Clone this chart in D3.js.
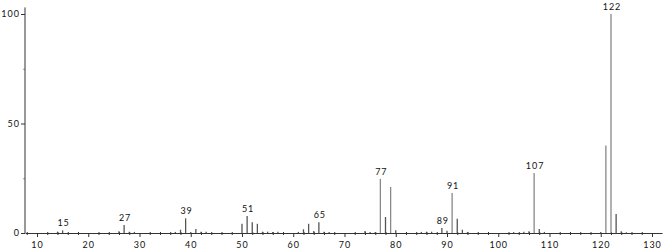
<!DOCTYPE html>
<html>
<head>
<meta charset="utf-8">
<script src="https://cdn.jsdelivr.net/npm/d3@7"></script>
<style>
  body { margin: 0; background: #fff; }
  text { font-family: Lato, "DejaVu Sans", sans-serif; font-size: 9px; fill: #111; letter-spacing: 1px; }
</style>
</head>
<body>
<div id="chart"></div>
<script>
// m/z values and relative intensity
var mz = [14, 15, 26, 27, 28, 29, 37, 38, 39, 40, 41, 42, 43,
  50, 51, 52, 53, 54, 55, 56, 57, 61, 62, 63, 64, 65, 66, 67,
  74, 75, 76, 77, 78, 79, 80, 85, 86, 87, 89, 90, 91, 92, 93, 94,
  103, 105, 106, 107, 108, 109, 120, 121, 122, 123, 124, 125];
var intensity = [0.6, 1.2, 0.8, 3.7, 0.6, 0.5, 0.5, 1.5, 6.7, 0.5, 1.8, 0.6, 0.6,
  4.2, 7.8, 4.9, 4.2, 0.6, 0.6, 0.4, 0.6, 0.5, 1.7, 4.2, 0.9, 4.9, 0.6, 0.4,
  0.9, 0.5, 0.5, 24.7, 7.3, 21, 1.2, 0.5, 0.6, 0.6, 2.3, 1, 18.3, 6.5, 1.5, 0.5,
  0.4, 0.6, 0.8, 27.4, 1.8, 0.5, 0.5, 40, 100, 8.7, 0.8, 0.3];
var peakLabels = [15, 27, 39, 51, 65, 77, 89, 91, 107, 122];
var xTicks = [10, 20, 30, 40, 50, 60, 70, 80, 90, 100, 110, 120, 130];
var yTicks = [0, 50, 100];

var svgWidth = 667;
var svgHeight = 249;
var margin = { top: 14, right: 5, bottom: 16, left: 25 };
var chartWidth = svgWidth - margin.left - margin.right;
var chartHeight = 233 - margin.top;

var svg = d3.select("#chart")
  .append("svg")
  .attr("width", svgWidth)
  .attr("height", svgHeight);

var xScale = d3.scaleLinear()
  .domain([7.66, 10 + (662 - 37) / 5.125])
  .range([0, 637]);

var yScale = d3.scaleLinear()
  .domain([0, 100])
  .range([chartHeight, 0]);

var chartGroup = svg.append("g")
  .attr("transform", `translate(${margin.left}, ${margin.top})`);

// x axis with minor ticks every 2
var minor = d3.range(8, 132, 2).filter(d => d % 10 !== 0);
chartGroup.append("g")
  .attr("transform", `translate(0, ${chartHeight})`)
  .call(d3.axisBottom(xScale).tickValues(minor).tickSize(2).tickFormat(""))
  .call(g => g.select(".domain").remove())
  .selectAll("line").attr("stroke", "#333").attr("y1", -1);

var bottomAxis = d3.axisBottom(xScale)
  .tickValues(xTicks)
  .tickSize(4)
  .tickSizeOuter(0)
  .tickFormat(d3.format("d"));
chartGroup.append("g")
  .attr("transform", `translate(0, ${chartHeight})`)
  .call(bottomAxis)
  .call(g => g.select(".domain").attr("stroke", "#333"))
  .call(g => g.selectAll(".tick line").attr("stroke", "#333"))
  .call(g => g.selectAll("text").attr("dy", "0.9em").style("font-family", null).style("font-size", null));

// y axis
chartGroup.append("g")
  .call(d3.axisLeft(yScale).tickValues([25, 75]).tickSize(2).tickFormat(""))
  .call(g => g.select(".domain").remove())
  .selectAll("line").attr("stroke", "#999");

var leftAxis = d3.axisLeft(yScale)
  .tickValues(yTicks)
  .tickSize(4)
  .tickSizeOuter(0)
  .tickFormat(d3.format("d"));
chartGroup.append("g")
  .call(leftAxis)
  .call(g => g.select(".domain").attr("stroke", "#333").attr("d", `M0,${yScale(0)}V${yScale(103)}`))
  .call(g => g.selectAll(".tick line").attr("stroke", "#333"))
  .call(g => g.selectAll("text").attr("x", -5).style("font-family", null).style("font-size", null));

// peaks
var peaks = mz.map((m, i) => ({ mz: m, value: intensity[i] }));
chartGroup.selectAll("line.peak")
  .data(peaks)
  .enter()
  .append("line")
  .attr("class", "peak")
  .attr("x1", d => xScale(d.mz))
  .attr("x2", d => xScale(d.mz))
  .attr("y1", yScale(0))
  .attr("y2", d => yScale(d.value))
  .attr("stroke", d => d.value > 10 ? "#888" : "#555")
  .attr("stroke-width", 1.3);

// peak labels
chartGroup.selectAll("text.peaklabel")
  .data(peaks.filter(d => peakLabels.includes(d.mz)))
  .enter()
  .append("text")
  .attr("class", "peaklabel")
  .attr("x", d => xScale(d.mz) + 1)
  .attr("y", d => yScale(d.value) - 4)
  .attr("text-anchor", "middle")
  .text(d => d.mz);
</script>
</body>
</html>
